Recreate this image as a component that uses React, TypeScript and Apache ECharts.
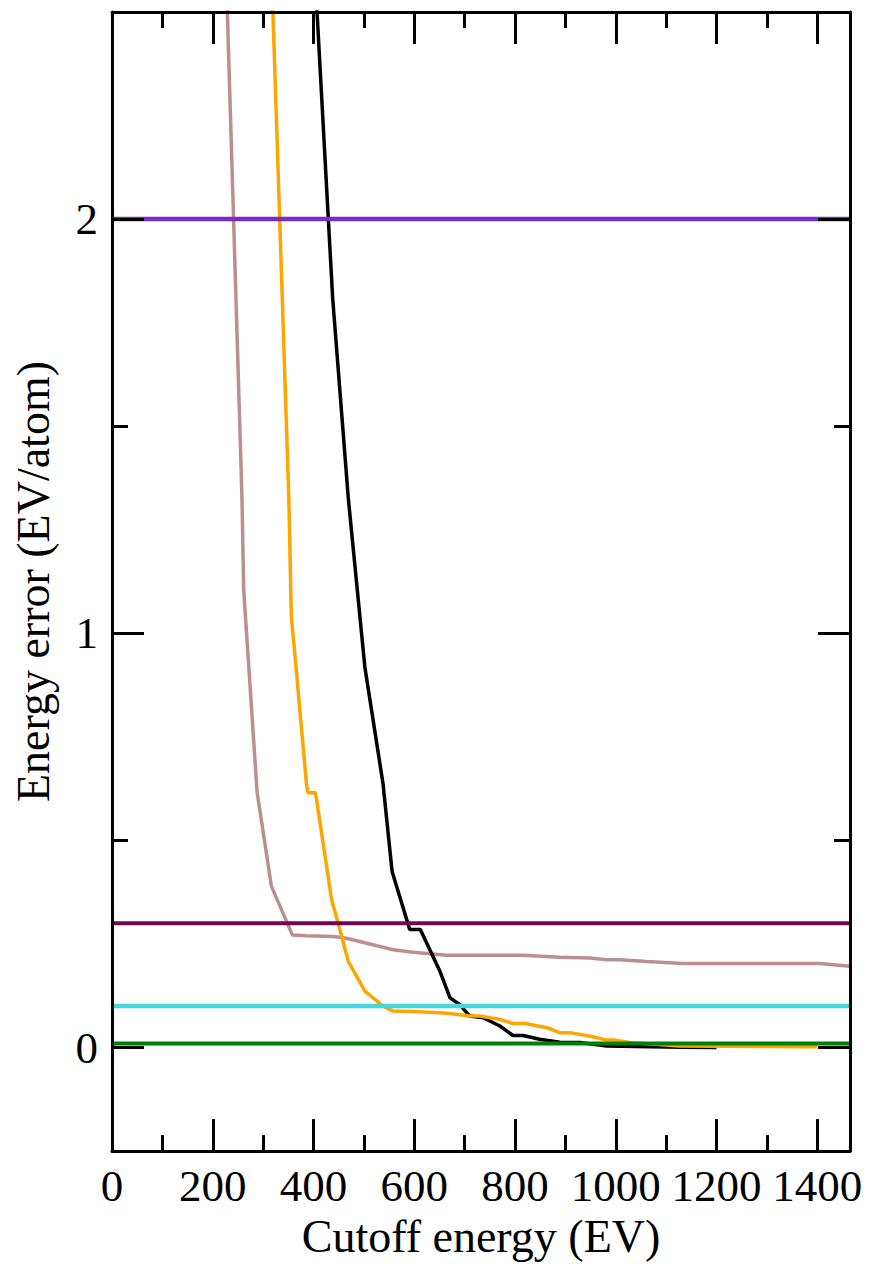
import React, { useEffect, useRef } from "react";
import * as echarts from "echarts";

// Axis ticks / labels
const xMajorTicks = [0, 200, 400, 600, 800, 1000, 1200, 1400];
const xMinorTicks = [100, 300, 500, 700, 900, 1100, 1300];
const yMajorTicks = [0, 1, 2];
const yMinorTicks = [0.5, 1.5];
const xMin = 0;
const xMax = 1465;
const yMin = -0.25;
const yMax = 2.5;

// Series: rosy-brown curve
const pinkX = [224, 258, 261.5, 288, 316.5, 358, 386, 439, 465.5, 518, 558, 598, 664, 816, 889, 949, 982, 1008, 1061, 1133, 1405, 1465];
const pinkY = [2.7, 1.327, 1.103, 0.617, 0.389, 0.272, 0.27, 0.268, 0.264, 0.248, 0.236, 0.23, 0.223, 0.223, 0.218, 0.216, 0.212, 0.212, 0.208, 0.203, 0.203, 0.196];

// Series: orange curve
const orangeX = [314, 351, 356, 363, 386, 389, 404, 436, 449, 469, 502, 538, 558, 598, 651, 671, 710, 730, 770, 796, 820, 863, 889, 909, 955, 982, 995, 1028, 1127, 1400];
const orangeY = [2.7, 1.327, 1.04, 0.95, 0.637, 0.615, 0.615, 0.357, 0.3, 0.208, 0.136, 0.1, 0.088, 0.087, 0.084, 0.082, 0.076, 0.076, 0.068, 0.058, 0.058, 0.048, 0.036, 0.036, 0.026, 0.018, 0.018, 0.012, 0.004, 0.002];

// Series: black curve
const blackX = [398, 438, 469, 502, 538, 556, 591, 612, 651, 671, 690, 710, 737, 770, 796, 816, 849, 889, 929, 982, 1127, 1200];
const blackY = [2.7, 1.81, 1.327, 0.918, 0.637, 0.425, 0.285, 0.285, 0.184, 0.12, 0.104, 0.076, 0.072, 0.052, 0.029, 0.029, 0.02, 0.013, 0.012, 0.004, 0.001, 0.0];

// Horizontal reference levels
const levelValues = [2.0, 0.3, 0.1, 0.01];
const levelColors = ["#7A2DBE", "#6E0A50", "#44D7DC", "#008000"];
const levelWidths = [4.5, 4, 4.5, 4];
const levelX = [0, 1465];

const FONT = "Liberation Serif";

function zip(xs: number[], ys: number[]) {
  return xs.map((x, i) => [x, ys[i]]);
}

export default function App() {
  const ref = useRef<HTMLDivElement>(null);

  useEffect(() => {
    if (!ref.current) return;
    const chart = echarts.init(ref.current, null, { renderer: "svg" });

    const tickStyle = { color: "#000", width: 3 };
    const baseX = (position: string, values: number[], len: number, main: boolean) => ({
      type: "value",
      position,
      min: xMin,
      max: xMax,
      z: 10,
      axisLine: { show: main, onZero: false, lineStyle: { color: "#000", width: 3 } },
      axisTick: { show: true, inside: true, length: len, lineStyle: tickStyle, customValues: values },
      axisLabel: main && position === "bottom"
        ? {
            show: true,
            customValues: xMajorTicks,
            formatter: (v: number) => String(v),
            fontFamily: FONT,
            fontSize: 45,
            color: "#000",
            margin: 12,
          }
        : { show: false },
      splitLine: { show: false },
      ...(main && position === "bottom"
        ? {
            name: "Cutoff energy (EV)",
            nameLocation: "middle",
            nameGap: 55,
            nameTextStyle: { fontFamily: FONT, fontSize: 46, color: "#000" },
          }
        : {}),
    });
    const baseY = (position: string, values: number[], len: number, main: boolean) => ({
      type: "value",
      position,
      min: yMin,
      max: yMax,
      z: 10,
      axisLine: { show: main, onZero: false, lineStyle: { color: "#000", width: 3 } },
      axisTick: { show: true, inside: true, length: len, lineStyle: tickStyle, customValues: values },
      axisLabel: main && position === "left"
        ? {
            show: true,
            customValues: yMajorTicks,
            formatter: (v: number) => String(v),
            fontFamily: FONT,
            fontSize: 45,
            color: "#000",
            margin: 14,
          }
        : { show: false },
      splitLine: { show: false },
      ...(main && position === "left"
        ? {
            name: "Energy error (EV/atom)",
            nameLocation: "middle",
            nameGap: 56,
            nameRotate: 90,
            nameTextStyle: { fontFamily: FONT, fontSize: 46, color: "#000" },
          }
        : {}),
    });

    const curve = (xs: number[], ys: number[], color: string, width: number) => ({
      type: "line",
      data: zip(xs, ys),
      xAxisIndex: 0,
      yAxisIndex: 0,
      symbol: "none",
      silent: true,
      lineStyle: { color, width },
      clip: true,
    });

    const option: any = {
      animation: false,
      backgroundColor: "#fff",
      grid: { left: 112, right: 20, top: 12, bottom: 109, containLabel: false },
      xAxis: [
        baseX("bottom", xMajorTicks, 32, true),
        baseX("bottom", xMinorTicks, 16, false),
        baseX("top", xMajorTicks, 32, true),
        baseX("top", xMinorTicks, 16, false),
      ],
      yAxis: [
        baseY("left", yMajorTicks, 32, true),
        baseY("left", yMinorTicks, 16, false),
        baseY("right", yMajorTicks, 32, true),
        baseY("right", yMinorTicks, 16, false),
      ],
      series: [
        curve(pinkX, pinkY, "#BC8F8F", 3.5),
        curve(blackX, blackY, "#000000", 3.5),
        curve(orangeX, orangeY, "#FFA500", 3.5),
        ...levelValues.map((v, i) =>
          curve(levelX, levelX.map(() => v), levelColors[i], levelWidths[i])
        ),
      ],
    };

    chart.setOption(option);
    return () => chart.dispose();
  }, []);

  return (
    <div
      ref={ref}
      style={{ position: "absolute", left: 0, top: 0, width: 870, height: 1264, background: "#fff" }}
    />
  );
}
